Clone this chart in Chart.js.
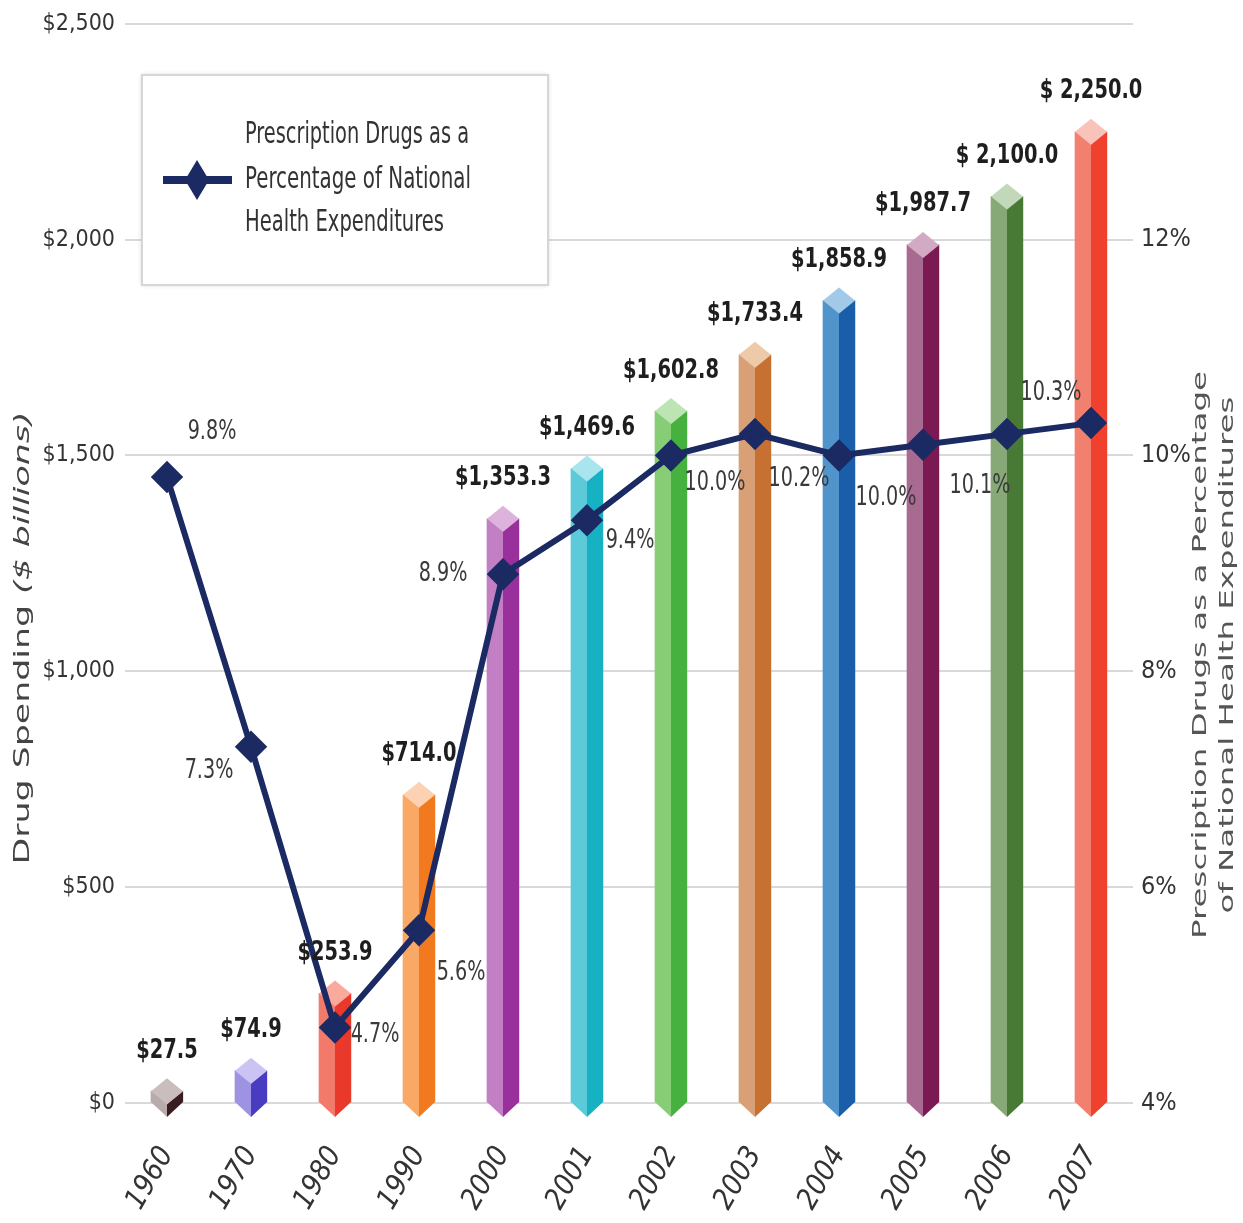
<!DOCTYPE html>
<html>
<head>
<meta charset="utf-8">
<script src="https://cdn.jsdelivr.net/npm/chart.js@4.4.1/dist/chart.umd.min.js"></script>
<style>
  html, body { margin: 0; padding: 0; background: #ffffff; }
  #wrap { width: 1243px; height: 1223px; }
</style>
</head>
<body>
<div id="wrap"><canvas id="c" width="1243" height="1223"></canvas></div>
<script>
// ---------- data ----------
const years = ['1960','1970','1980','1990','2000','2001','2002','2003','2004','2005','2006','2007'];
const spending = [27.5, 74.9, 253.9, 714.0, 1353.3, 1469.6, 1602.8, 1733.4, 1858.9, 1987.7, 2100.0, 2250.0];
const rxShare = [9.8, 7.3, 4.7, 5.6, 8.9, 9.4, 10.0, 10.2, 10.0, 10.1, 10.2, 10.3];
const spendingLabels = ['$27.5','$74.9','$253.9','$714.0','$1,353.3','$1,469.6','$1,602.8','$1,733.4','$1,858.9','$1,987.7','$ 2,100.0','$ 2,250.0'];
const shareLabels = ['9.8%','7.3%','4.7%','5.6%','8.9%','9.4%','10.0%','10.2%','10.0%','10.1%','','10.3%'];
const seriesName = 'Prescription Drugs as a Percentage of National Health Expenditures';
const legendLines = ['Prescription Drugs as a', 'Percentage of National', 'Health Expenditures'];
const leftTitle = ['Drug Spending ', '($ billions)'];
const rightTitle = ['Prescription Drugs as a Percentage', 'of National Health Expenditures'];

// ---------- styles ----------
const faceLight = ['#b9abab','#9d93e2','#f27a6a','#f9a866','#c27fc4','#5ccad8','#86cd76','#d9a077','#5193cb','#a96a92','#87a977','#f2806f'];
const faceDark  = ['#3a1b1f','#4a3cc0','#e8392a','#f27a1e','#99309b','#16b1c2','#46b13e','#c67132','#1a5ea9','#7b1a52','#487a36','#f0402e'];
const faceTop   = ['#c9bdbd','#cbc3f3','#f9aa9c','#fcd2b2','#ddb3dd','#a9e5ed','#bde5b3','#eecaa9','#a2c9e8','#d3aac3','#c2d9b9','#f9c3bb'];
const pctOffsets = [[45,-45],[-42,24],[40,8],[42,43],[-60,0],[43,21],[44,28],[44,45],[47,43],[57,42],[0,0],[-40,-30]];
const NAVY = '#1b2a62';
const NARROW = "'Liberation Sans Narrow', 'Arial Narrow', 'DejaVu Sans Condensed', sans-serif";
const WIDE = "'DejaVu Sans', Verdana, sans-serif";

// ---------- plugins ----------
const bar3d = {
  id: 'bar3d',
  afterDatasetDraw(chart, args) {
    if (args.index !== 0) return;
    const ctx = chart.ctx;
    args.meta.data.forEach((bar, i) => {
      const p = bar.getProps(['x','y','base','width'], true);
      const x = p.x, y = p.y, base = p.base, hw = p.width / 2, h = 13, v = 15;
      const poly = (pts, col) => {
        ctx.beginPath();
        ctx.moveTo(pts[0][0], pts[0][1]);
        for (let k = 1; k < pts.length; k++) ctx.lineTo(pts[k][0], pts[k][1]);
        ctx.closePath();
        ctx.fillStyle = col; ctx.fill();
      };
      ctx.save();
      poly([[x-hw,y],[x,y+h],[x,base+v],[x-hw,base]], faceLight[i]);
      poly([[x,y+h],[x+hw,y],[x+hw,base],[x,base+v]], faceDark[i]);
      poly([[x-hw,y],[x,y-h],[x+hw,y],[x,y+h]], faceTop[i]);
      ctx.restore();
    });
  }
};

const labelsPlugin = {
  id: 'labelsPlugin',
  afterDatasetsDraw(chart) {
    const ctx = chart.ctx;
    ctx.save();
    // value labels above bars
    const bars = chart.getDatasetMeta(0).data;
    ctx.font = "bold 27px " + NARROW;
    ctx.fillStyle = '#1e1e1e';
    ctx.textAlign = 'center';
    ctx.textBaseline = 'bottom';
    bars.forEach((b, i) => {
      const t = spendingLabels[i];
      ctx.fillText(t, b.x, b.y - 13 - 14, ctx.measureText(t).width * 0.8);
    });
    // percentage labels near points
    const pts = chart.getDatasetMeta(1).data;
    ctx.font = "26px " + NARROW;
    ctx.fillStyle = '#3a3a3a';
    ctx.textBaseline = 'middle';
    pts.forEach((pt, i) => {
      const t = shareLabels[i];
      if (!t) return;
      ctx.fillText(t, pt.x + pctOffsets[i][0], pt.y + pctOffsets[i][1], ctx.measureText(t).width * 0.82);
    });
    ctx.restore();
  },
  afterDraw(chart) {
    const ctx = chart.ctx;
    ctx.save();
    // legend box
    const bx = 142, by = 75, bw = 406, bh = 210;
    ctx.shadowColor = 'rgba(0,0,0,0.18)';
    ctx.shadowBlur = 5;
    ctx.fillStyle = '#ffffff';
    ctx.fillRect(bx, by, bw, bh);
    ctx.shadowColor = 'transparent';
    ctx.strokeStyle = '#d6d6d6';
    ctx.lineWidth = 2;
    ctx.strokeRect(bx, by, bw, bh);
    const ds = chart.data.datasets[1];
    ctx.strokeStyle = ds.borderColor;
    ctx.lineWidth = 8;
    ctx.beginPath(); ctx.moveTo(163, 180); ctx.lineTo(232, 180); ctx.stroke();
    ctx.fillStyle = ds.pointBackgroundColor;
    ctx.beginPath();
    ctx.moveTo(197, 160); ctx.lineTo(209, 180); ctx.lineTo(197, 200); ctx.lineTo(185, 180);
    ctx.closePath(); ctx.fill();
    ctx.font = "30px " + NARROW;
    ctx.fillStyle = '#333333';
    ctx.textAlign = 'left';
    ctx.textBaseline = 'middle';
    const widths = [224, 226, 199];
    const ys = [135, 180, 223];
    legendLines.forEach((t, i) => ctx.fillText(t, 245, ys[i], widths[i]));

    // left axis title (rotated, stretched)
    ctx.font = "21px " + WIDE;
    ctx.fillStyle = '#444444';
    ctx.textBaseline = 'middle';
    const w1 = ctx.measureText(leftTitle[0]).width;
    ctx.font = "italic 21px " + WIDE;
    const w2 = ctx.measureText(leftTitle[1]).width;
    const sL = 453 / (w1 + w2);
    ctx.save();
    ctx.translate(24, 638);
    ctx.rotate(-Math.PI / 2);
    ctx.scale(sL, 1);
    ctx.textAlign = 'left';
    ctx.font = "21px " + WIDE;
    ctx.fillText(leftTitle[0], -(w1 + w2) / 2, 0);
    ctx.font = "italic 21px " + WIDE;
    ctx.fillText(leftTitle[1], -(w1 + w2) / 2 + w1, 0);
    ctx.restore();

    // right axis title (two lines, rotated)
    ctx.font = "20px " + WIDE;
    ctx.fillStyle = '#555555';
    const rw = ctx.measureText(rightTitle[0]).width;
    const sR = 568 / rw;
    ctx.save();
    ctx.translate(1214, 655);
    ctx.rotate(-Math.PI / 2);
    ctx.scale(sR, 1);
    ctx.textAlign = 'center';
    ctx.fillText(rightTitle[0], 0, -13);
    ctx.fillText(rightTitle[1], 0, 14);
    ctx.restore();
    ctx.restore();
  }
};

// ---------- chart ----------
new Chart(document.getElementById('c'), {
  data: {
    labels: years,
    datasets: [
      {
        type: 'bar',
        label: 'Drug Spending ($ billions)',
        data: spending,
        yAxisID: 'y',
        backgroundColor: faceLight,
        borderWidth: 0,
        barThickness: 32,
        order: 1
      },
      {
        type: 'line',
        label: seriesName,
        data: rxShare,
        yAxisID: 'y2',
        borderColor: NAVY,
        backgroundColor: NAVY,
        pointBackgroundColor: NAVY,
        pointBorderColor: NAVY,
        borderWidth: 6,
        pointStyle: 'rectRot',
        pointRadius: 12,
        tension: 0,
        order: 0
      }
    ]
  },
  options: {
    responsive: false,
    animation: false,
    devicePixelRatio: 1,
    layout: { padding: { top: 20, left: 0, right: 0, bottom: 0 } },
    plugins: { legend: { display: false }, tooltip: { enabled: false } },
    scales: {
      x: {
        grid: { display: false, drawTicks: false },
        border: { display: false },
        ticks: {
          minRotation: 60, maxRotation: 60, padding: 38,
          color: '#333333',
          font: { family: NARROW, size: 29, style: 'italic' }
        },
        afterFit: s => { s.height = 120; }
      },
      y: {
        position: 'left',
        min: 0, max: 2500,
        grid: { color: '#d9d9d9', lineWidth: 2, drawTicks: false },
        border: { display: false },
        ticks: {
          stepSize: 500, padding: 10, color: '#333333',
          font: { family: NARROW, size: 23 },
          callback: v => '$' + Number(v).toLocaleString('en-US')
        },
        afterFit: s => { s.width = 125; }
      },
      y2: {
        position: 'right',
        min: 4, max: 14,
        grid: { drawOnChartArea: false, drawTicks: false },
        border: { display: false },
        ticks: {
          stepSize: 2, padding: 8, color: '#333333',
          font: { family: NARROW, size: 25 },
          callback: v => (v >= 14 ? '' : v + '%')
        },
        afterFit: s => { s.width = 110; }
      }
    }
  },
  plugins: [bar3d, labelsPlugin]
});
</script>
</body>
</html>
